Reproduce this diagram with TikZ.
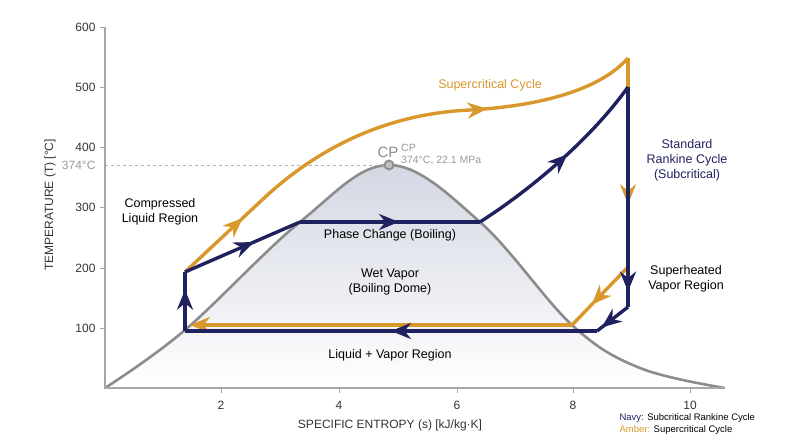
\documentclass[tikz,border=0pt]{standalone}
\usepackage{fontspec}
\setmainfont{Liberation Sans}
\usetikzlibrary{positioning,calc,arrows.meta,decorations.markings}
\definecolor{navy}{HTML}{1F225E}
\definecolor{amber}{HTML}{D8982C}
\definecolor{dome}{HTML}{8C8C8C}
\definecolor{domefill}{HTML}{D4D7E3}
\tikzset{cyc/.style={line width=3.4pt, line join=round}}
\tikzset{marr/.style={postaction={decorate}, decoration={markings, mark=at position #1 with {\arrow{Stealth[length=20pt,width=16pt]}}}}}
\tikzset{lbl/.style={font=\fontsize{12.5}{15}\selectfont, align=center}}
\tikzset{tick/.style={font=\fontsize{12}{14}\selectfont, text=black!80}}
\begin{document}
\begin{tikzpicture}[x=1pt,y=-1pt]
			\useasboundingbox (0,0) rectangle (800,447);
			% dome
			\fill[top color=domefill, bottom color=white, shading angle=0]
				plot[smooth, tension=0.6] coordinates {(105,388) (185,330) (300,222) (389,165) (480,222) (572,325) (640,368) (725,388)} -- cycle;
			\draw[dome, line width=2.6pt]
				plot[smooth, tension=0.6] coordinates {(105,388) (185,330) (300,222) (389,165) (480,222) (572,325) (640,368) (725,388)};
			% axes
			\draw[black!35, line width=1.2pt] (105,27) -- (105,388) -- (725,388);
			\foreach \v/\y in {600/27, 500/87, 400/147, 300/207, 200/268, 100/328}
				\node[tick, left=6pt] at (105,\y) {\v};
			\foreach \y in {27, 87, 147, 207, 268, 328}
				\draw[black!35, line width=1pt] (100,\y) -- (105,\y);
			\foreach \v/\x in {2/221, 4/339, 6/457, 8/573, 10/690} {
				\draw[black!35, line width=1pt] (\x,388) -- (\x,393);
				\node[tick] at (\x,405) {\v};
			}
			\node[tick] (xlab) at (390,425) {SPECIFIC ENTROPY (s) [kJ/kg·K]};
			\node[tick, rotate=90] (ylab) at (50,205) {TEMPERATURE (T) [°C]};
			% critical point
			\coordinate (cp) at (389,165);
			\draw[black!30, dashed, line width=1pt] (105,165) -- (cp);
			\node[tick, text=black!40, left=6pt] at (105,165) {374°C};
			\node[text=black!45, font=\fontsize{15}{17}\selectfont] (cpl) at (388,152) {CP};
			\node[text=black!40, font=\fontsize{10.5}{12}\selectfont, align=left, anchor=south west, inner sep=0pt] (cpd) at (401,165) {CP\\374°C, 22.1 MPa};
			\draw[dome, fill=black!25, line width=1.8pt] (cp) circle (4.5pt);
			% cycle points
			\coordinate (a) at (185,331);
			\coordinate (b) at (185,272);
			\coordinate (c) at (300,222);
			\coordinate (d) at (480,222);
			\coordinate (e) at (628,87);
			\coordinate (f) at (628,307);
			\coordinate (g) at (597,331);
			\coordinate (h) at (628,58);
			\coordinate (k) at (628,267);
			\coordinate (m) at (572,325);
			\coordinate (n) at (190,325);
			\coordinate (p) at (262,200);
			% supercritical cycle
			\draw[cyc, amber, marr=0.75] (b) -- (p);
			\draw[cyc, amber, marr=0.62] (p) .. controls (312,153) and (380,114) .. (470,110) .. controls (540,106) and (600,90) .. (h);
			\draw[cyc, amber, marr=0.7] (h) -- (k);
			\draw[cyc, amber, marr=0.65] (k) -- (m);
			\draw[cyc, amber, -{Stealth[length=20pt,width=16pt]}] (m) -- (n);
			% subcritical cycle
			\draw[cyc, navy, marr=0.7] (a) -- (b);
			\draw[cyc, navy, marr=0.6] (b) -- (c);
			\draw[cyc, navy, marr=0.55] (c) -- (d);
			\draw[cyc, navy, marr=0.55] (d) .. controls (530,190) and (590,140) .. (e);
			\draw[cyc, navy, marr=0.93] (e) -- (f);
			\draw[cyc, navy, marr=0.85] (f) -- (g);
			\draw[cyc, navy, marr=0.5] (g) -- (a);
			% labels
			\node[lbl] (comp) at (160,212) {Compressed\\Liquid Region};
			\node[lbl] (phase) at (390,235) {Phase Change (Boiling)};
			\node[lbl] (wet) at (390,282) {Wet Vapor\\(Boiling Dome)};
			\node[lbl] (lv) at (390,355) {Liquid + Vapor Region};
			\node[lbl, text=amber] (sc) at (490,85) {Supercritical Cycle};
			\node[lbl, text=navy] (rk) at (687,160) {Standard\\Rankine Cycle\\(Subcritical)};
			\node[lbl] (sh) at (686,279) {Superheated\\Vapor Region};
			% legend
			\node[font=\fontsize{9.5}{12}\selectfont, align=left, anchor=west] (leg) at (616,424) {{\color{navy}Navy:} Subcritical Rankine Cycle\\{\color{amber}Amber:} Supercritical Cycle};
		\end{tikzpicture}
\end{document}
